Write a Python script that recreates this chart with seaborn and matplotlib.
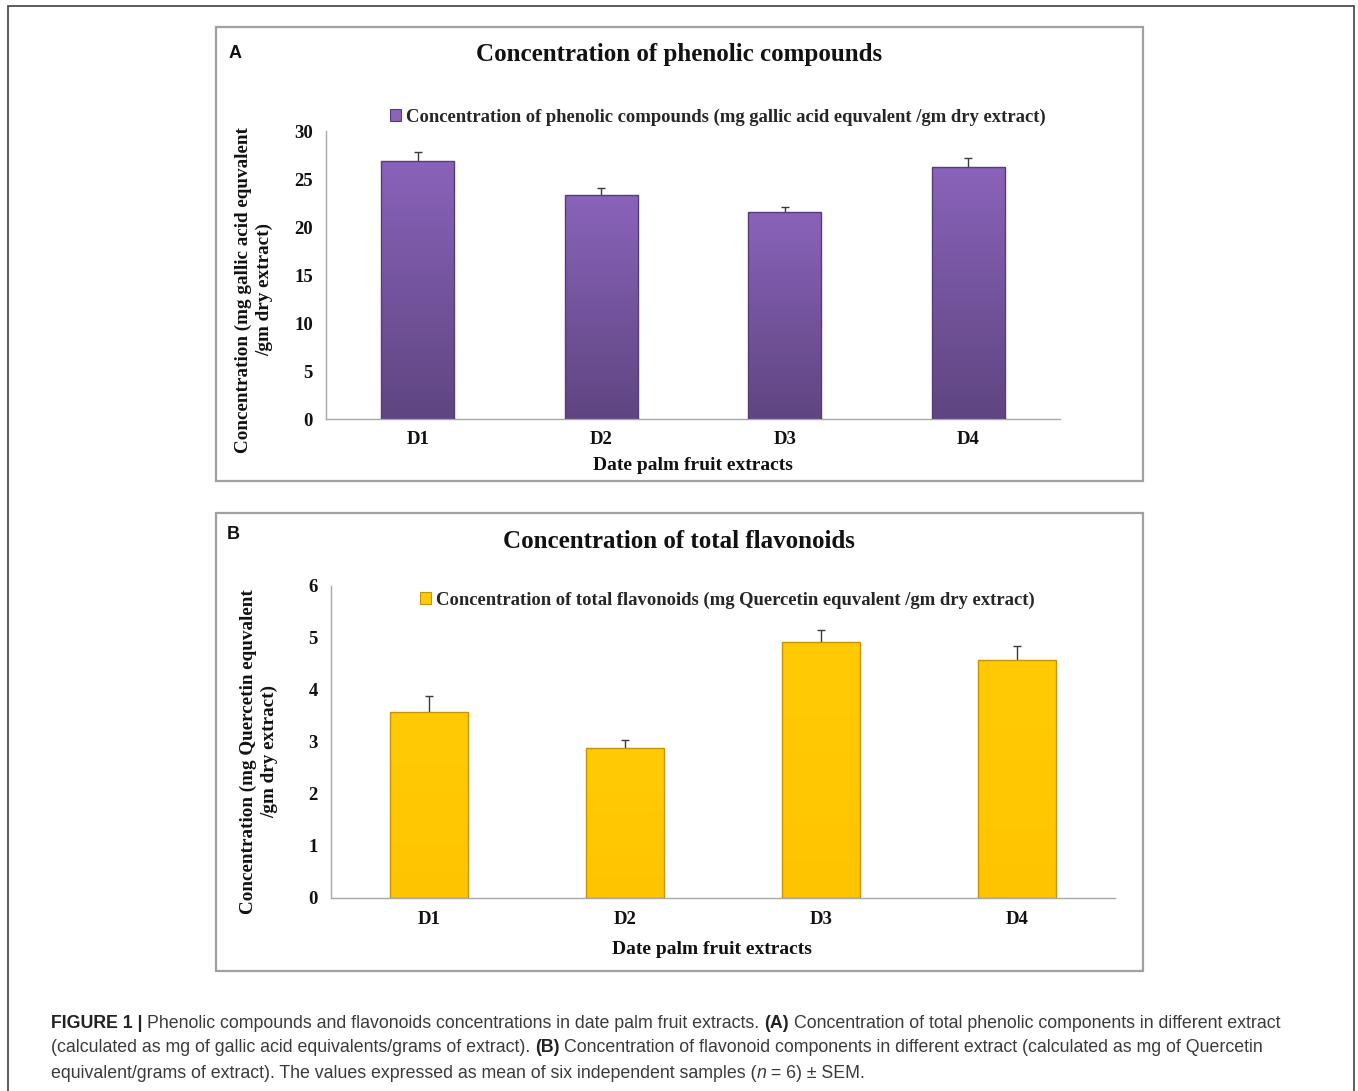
import numpy as np
import pandas as pd
import matplotlib
matplotlib.use("Agg")
import matplotlib.pyplot as plt
import seaborn as sns
from matplotlib.patches import Rectangle, Patch
from matplotlib.colors import LinearSegmentedColormap

# ---------------- data ----------------
extracts = ["D1", "D2", "D3", "D4"]
phenolic = [26.9, 23.3, 21.6, 26.3]
phenolic_sem = [0.9, 0.8, 0.5, 0.9]
flavonoids = [3.58, 2.88, 4.92, 4.58]
flavonoids_sem = [0.30, 0.16, 0.23, 0.27]

title_a = "Concentration of phenolic compounds"
title_b = "Concentration of total flavonoids"
legend_a = "Concentration of phenolic compounds (mg gallic acid equvalent /gm dry extract)"
legend_b = "Concentration of total flavonoids (mg Quercetin equvalent /gm dry extract)"
ylabel_a = "Concentration (mg gallic acid equvalent\n/gm dry extract)"
ylabel_b = "Concentration (mg Quercetin equvalent\n/gm dry extract)"
xlabel = "Date palm fruit extracts"

caption_lines = [
    [("FIGURE 1 |", "bold", "normal"),
     ("Phenolic compounds and flavonoids concentrations in date palm fruit extracts.", "normal", "normal"),
     ("(A)", "bold", "normal"),
     ("Concentration of total phenolic components in different extract", "normal", "normal")],
    [("(calculated as mg of gallic acid equivalents/grams of extract).", "normal", "normal"),
     ("(B)", "bold", "normal"),
     ("Concentration of flavonoid components in different extract (calculated as mg of Quercetin", "normal", "normal")],
    [("equivalent/grams of extract). The values expressed as mean of six independent samples (", "normal", "normal"),
     ("n", "normal", "italic"),
     (" = 6) \u00b1 SEM.", "normal", "normal")],
]

W, H = 1358, 1091
sns.set_theme(style="white")
plt.rcParams["font.family"] = ["Liberation Serif", "DejaVu Serif"]
SANS = ["Liberation Sans", "DejaVu Sans"]

fig = plt.figure(figsize=(W / 100, H / 100), dpi=100)
fig.patch.set_facecolor("white")


def fx(px):
    return px / W


def fy(py):
    return 1 - py / H


# frames
fig.patches.append(Rectangle((fx(8), fy(1110)), fx(1354) - fx(8), fy(6) - fy(1110),
                             transform=fig.transFigure, fill=False, ec="#505050", lw=1.3))
for (y0, y1) in [(27, 481), (513, 971)]:
    fig.patches.append(Rectangle((fx(216), fy(y1)), fx(1143) - fx(216), fy(y0) - fy(y1),
                                 transform=fig.transFigure, fill=False, ec="#a0a0a0", lw=1.6))


def panel(rect_px, values, sems, ymax, ystep, top_c, bot_c, edge_c, leg_label, leg_xy,
          ylab, ylab_xy, xlab_xy):
    l, t, r, b = rect_px
    ax = fig.add_axes([fx(l), fy(b), fx(r) - fx(l), (b - t) / H])
    df = pd.DataFrame({"extract": extracts, "value": values})
    # error bars first (behind bars, so only the upper half shows)
    ax.errorbar(x=np.arange(len(extracts)), y=values, yerr=sems, fmt="none",
                ecolor="#3a3a3a", elinewidth=1.0, capsize=3, capthick=1.0, zorder=1)
    sns.barplot(data=df, x="extract", y="value", ax=ax, color=top_c, width=0.4,
                errorbar=None, edgecolor=edge_c, linewidth=1.0, zorder=3)
    cmap = LinearSegmentedColormap.from_list("g", [bot_c, top_c])
    grad = np.linspace(0, 1, 256).reshape(-1, 1)
    for p in list(ax.patches):
        x0, y0 = p.get_x(), p.get_y()
        w, h = p.get_width(), p.get_height()
        im = ax.imshow(grad, extent=[x0, x0 + w, y0, y0 + h], origin="lower",
                       aspect="auto", cmap=cmap, zorder=2.5, interpolation="bilinear")
        im.set_clip_path(p)
        p.set_facecolor("none")
    ax.set_xlim(-0.5, len(extracts) - 0.5)
    ax.set_ylim(0, ymax)
    ax.set_yticks(np.arange(0, ymax + 0.001, ystep))
    ax.set_xticks(np.arange(len(extracts)))
    ax.set_xticklabels(extracts)
    ax.set_xticks(np.arange(-0.5, len(extracts), 1.0), minor=True)
    for s in ["top", "right"]:
        ax.spines[s].set_visible(False)
    for s in ["left", "bottom"]:
        ax.spines[s].set_color("#a8a8a8")
        ax.spines[s].set_linewidth(1.0)
    ax.tick_params(axis="x", which="major", length=0, pad=9, labelsize=13.5)
    ax.tick_params(axis="x", which="minor", length=5, width=1, color="#a8a8a8", direction="out")
    ax.tick_params(axis="y", which="major", length=5, width=1, color="#a8a8a8",
                   direction="out", pad=4.5, labelsize=13.5)
    for lab in ax.get_xticklabels() + ax.get_yticklabels():
        lab.set_fontweight("bold")
        lab.set_color("#111111")
    ax.set_xlabel(xlabel, fontsize=14, fontweight="bold", color="#111111")
    ax.xaxis.label.set_va("center")
    ax.xaxis.set_label_coords((xlab_xy[0] - l) / (r - l), (b - xlab_xy[1]) / (b - t))
    ax.set_ylabel(ylab, fontsize=13.8, fontweight="bold", color="#111111",
                  multialignment="center", linespacing=1.35)
    ax.yaxis.label.set_va("center")
    ax.yaxis.label.set_ha("center")
    ax.yaxis.set_label_coords((ylab_xy[0] - l) / (r - l), (b - ylab_xy[1]) / (b - t))
    ax.set_facecolor("none")
    handle = Patch(facecolor=top_c, edgecolor=edge_c, linewidth=0.8)
    ax.legend(handles=[handle], labels=[leg_label], loc="center",
              bbox_to_anchor=(fx(leg_xy[0]), fy(leg_xy[1])), bbox_transform=fig.transFigure,
              frameon=False, handlelength=0.6, handleheight=0.6, handletextpad=0.25,
              prop={"weight": "bold", "size": 13.4}, borderaxespad=0, borderpad=0)
    return ax


panel((326, 131, 1060, 419), phenolic, phenolic_sem, 30, 5,
      "#8a63ba", "#5f4581", "#553d76", legend_a, (718, 117),
      ylabel_a, (254, 290), (693, 465))
panel((331, 586, 1115, 898), flavonoids, flavonoids_sem, 6, 1,
      "#ffcb05", "#ffc400", "#c39406", legend_b, (727, 600),
      ylabel_b, (259, 752), (712, 950))

fig.text(fx(679), fy(55), title_a, ha="center", va="center", fontsize=18,
         fontweight="bold", color="#111111")
fig.text(fx(679), fy(542), title_b, ha="center", va="center", fontsize=18,
         fontweight="bold", color="#111111")
fig.text(fx(229), fy(54), "A", ha="left", va="center", fontsize=13,
         fontweight="bold", family=SANS, color="#111111")
fig.text(fx(227), fy(535), "B", ha="left", va="center", fontsize=13,
         fontweight="bold", family=SANS, color="#111111")

# ---------------- caption ----------------
renderer = fig.canvas.get_renderer()


def text_w(s, size, weight="normal", style="normal"):
    t = fig.text(0, 0, s, fontsize=size, fontweight=weight, fontstyle=style, family=SANS)
    w = t.get_window_extent(renderer).width
    t.remove()
    return w


def line_width(runs, size):
    sp = text_w("x x", size) - text_w("xx", size)
    total = 0
    for i, (s, wgt, sty) in enumerate(runs):
        total += text_w(s, size, wgt, sty)
        if i < len(runs) - 1 and not runs[i + 1][0].startswith(" ") and not s.endswith("("):
            total += sp
    return total


base = 12.0
cap_size = base * 1237 / line_width(caption_lines[0], base)
sp = text_w("x x", cap_size) - text_w("xx", cap_size)
for yline, runs in zip([1023, 1048, 1073], caption_lines):
    x = 51
    for i, (s, wgt, sty) in enumerate(runs):
        color = "#222222" if wgt == "bold" else "#3a3a3a"
        t = fig.text(fx(x), fy(yline), s, fontsize=cap_size, fontweight=wgt, fontstyle=sty,
                     family=SANS, color=color, ha="left", va="center")
        x += t.get_window_extent(renderer).width
        if i < len(runs) - 1 and not runs[i + 1][0].startswith(" ") and not s.endswith("("):
            x += sp

fig.savefig("out.png", dpi=100, facecolor="white")
